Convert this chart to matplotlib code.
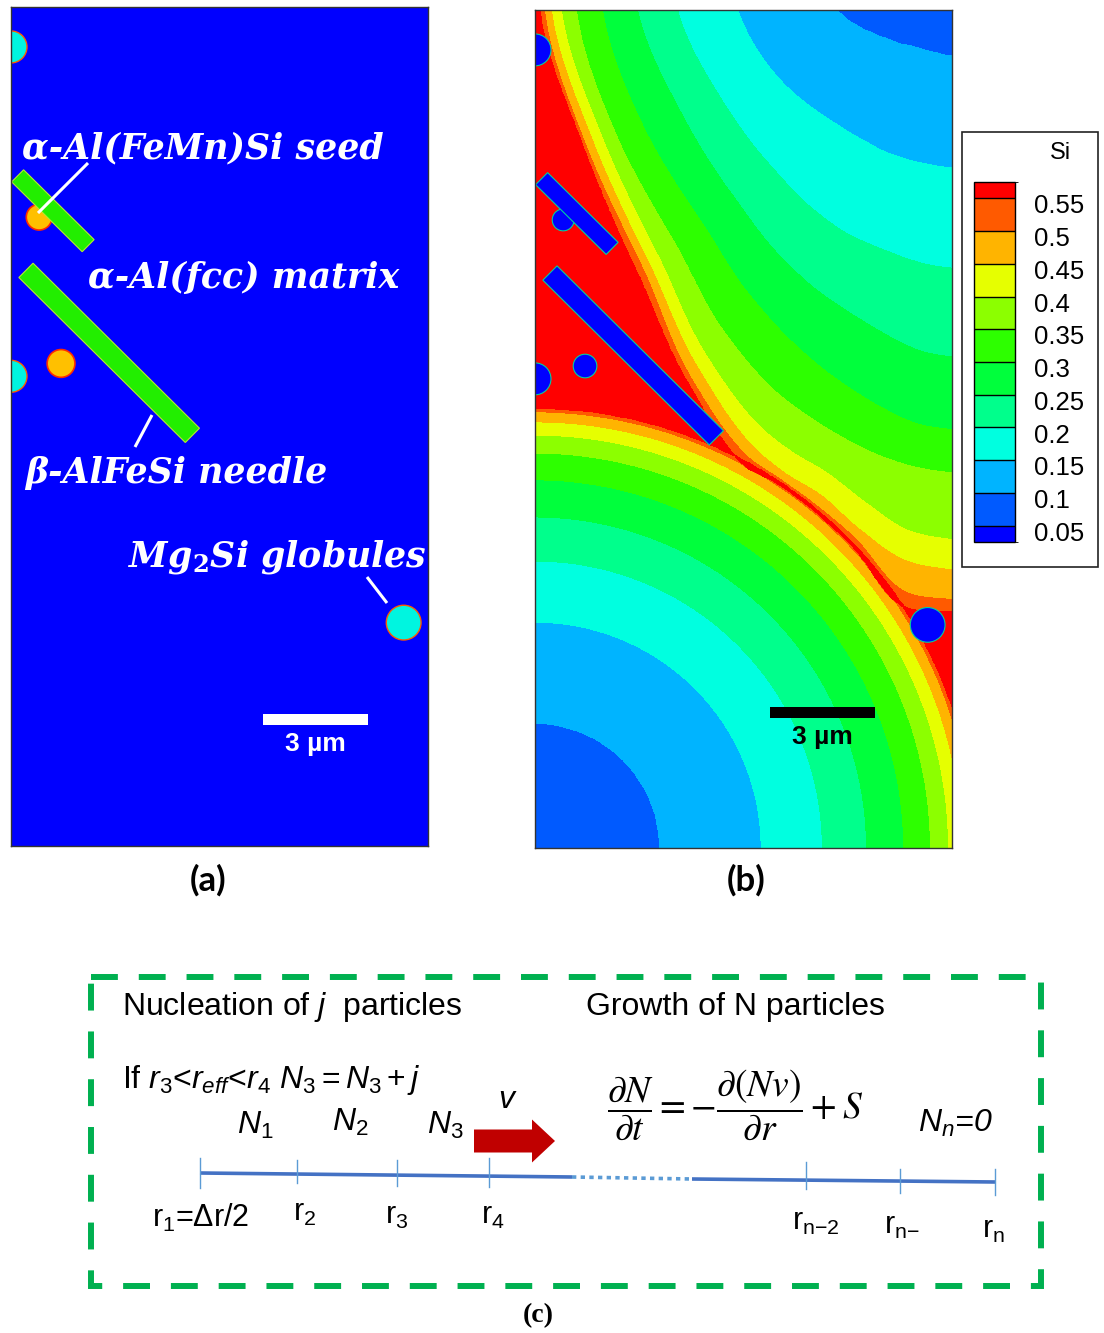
import numpy as np
import matplotlib
matplotlib.use('Agg')
import matplotlib.pyplot as plt
import matplotlib.transforms as mtransforms
from matplotlib.patches import Circle, Polygon, Rectangle, FancyArrow
from matplotlib.colors import ListedColormap, BoundaryNorm
from matplotlib.cm import ScalarMappable

plt.rcParams['font.family'] = 'Liberation Sans'
plt.rcParams['mathtext.fontset'] = 'custom'
plt.rcParams['mathtext.rm'] = 'Liberation Sans'
plt.rcParams['mathtext.it'] = 'Liberation Sans:italic'
plt.rcParams['mathtext.bf'] = 'Liberation Sans:bold'

# Si colour scale
si_levels = [0.05, 0.1, 0.15, 0.2, 0.25, 0.3, 0.35, 0.4, 0.45, 0.5, 0.55]
si_labels = ['0.05', '0.1', '0.15', '0.2', '0.25', '0.3', '0.35', '0.4', '0.45', '0.5', '0.55']
si_colors = ['#0000ff', '#005aff', '#00b4ff', '#00ffe0', '#00ff8c', '#00ff3c',
             '#2dff00', '#8cff00', '#e6ff00', '#ffb400', '#ff5a00', '#ff0000']

# simulation domain (um)
dom_w, dom_h = 12.0, 24.15
scale_um = 3

# lower-left grain: radius (um, from bottom-left corner) of the iso-Si lines 0.1 ... 0.55
low_radii = [3.57, 6.51, 8.27, 9.54, 10.61, 11.38, 11.90, 12.28, 12.57, 12.68]

# upper-right grain: iso-Si radius (um, from top-right corner) along rays at these angles
up_angles = [0, 20, 40, 55, 65, 70, 75, 80, 85, 90]
up_radii = [
    [3.31, 2.19, 1.59, 1.38, 1.33, 1.30, 1.30, 1.30, 1.30, 1.30],
    [6.17, 5.42, 4.78, 4.55, 4.52, 4.50, 4.50, 4.50, 4.52, 4.55],
    [7.90, 7.15, 6.89, 7.00, 7.12, 7.15, 7.20, 7.29, 7.38, 7.44],
    [9.05, 8.36, 8.27, 8.65, 8.99, 9.16, 9.37, 9.63, 9.88, 10.00],
    [10.06, 9.51, 9.45, 10.09, 10.66, 10.98, 11.30, 11.64, 11.96, 12.10],
    [10.81, 10.32, 10.43, 11.38, 12.10, 12.39, 12.68, 12.97, 13.20, 13.34],
    [11.24, 10.72, 11.04, 12.25, 13.20, 13.54, 13.83, 14.41, 15.04, 15.27],
    [11.53, 11.01, 11.38, 12.68, 13.78, 14.18, 14.50, 15.22, 15.91, 16.14],
    [11.73, 11.24, 11.61, 13.03, 14.12, 14.41, 14.84, 15.56, 16.77, 17.00],
    [11.87, 11.33, 11.82, 13.20, 14.38, 14.55, 15.01, 15.82, 17.20, 17.35],
]

# second phases (um, y measured down from the top of the domain)
needle_x0 = [0.19, 0.43]
needle_y0 = [4.86, 7.58]
needle_x1 = [2.22, 5.22]
needle_y1 = [6.87, 12.33]
needle_w = [0.49, 0.58]

seed_x = [0.81, 1.44]
seed_y = [6.05, 10.26]
seed_r = [0.37, 0.40]

glob_x = [0.0, 0.0, 11.30]
glob_y = [1.15, 10.63, 17.72]
glob_r = [0.46, 0.46, 0.50]

# 1D size-class grid of panel (c)
node_labels = [r'r$_1$=Δr/2', r'r$_2$', r'r$_3$', r'r$_4$',
               r'r$_{\mathrm{n}{-}2}$', r'r$_{\mathrm{n}{-}}$', r'r$_\mathrm{n}$']
class_labels = [r'$N_1$', r'$N_2$', r'$N_3$']

FW, FH = 1104, 1333
fig = plt.figure(figsize=(FW / 100, FH / 100), dpi=100)


def px_axes(x, y, w, h):
    return fig.add_axes([x / FW, 1 - (y + h) / FH, w / FW, h / FH])


def smooth_interp(x, xp, fp):
    # cubic Hermite through the tabulated points (Catmull-Rom slopes)
    xp = np.asarray(xp, float)
    fp = np.asarray(fp, float)
    h = np.diff(xp)
    m = np.empty_like(fp)
    m[1:-1] = (fp[2:] - fp[:-2]) / (xp[2:] - xp[:-2])
    m[0] = (fp[1] - fp[0]) / h[0]
    m[-1] = (fp[-1] - fp[-2]) / h[-1]
    i = np.clip(np.searchsorted(xp, x) - 1, 0, len(xp) - 2)
    t = (x - xp[i]) / h[i]
    t2, t3 = t * t, t * t * t
    return ((2 * t3 - 3 * t2 + 1) * fp[i] + (t3 - 2 * t2 + t) * h[i] * m[i]
            + (-2 * t3 + 3 * t2) * fp[i + 1] + (t3 - t2) * h[i] * m[i + 1])


def grain_field(rho, radii):
    lv = np.array(si_levels[1:])
    n = len(lv)
    k = (rho[None] > radii).sum(axis=0)
    kk = np.clip(k, 1, n - 1)
    r0 = np.take_along_axis(radii, (kk - 1)[None], 0)[0]
    r1 = np.take_along_axis(radii, kk[None], 0)[0]
    t = (rho - r0) / (r1 - r0)
    val = lv[kk - 1] + t * (lv[kk] - lv[kk - 1])
    val[k == 0] = 0.075
    val[k == n] = 0.6
    return val


def needle_poly(x0, y0, x1, y1, w):
    d = np.array([x1 - x0, y1 - y0])
    nrm = np.array([-d[1], d[0]]) / np.hypot(*d) * w / 2
    p0, p1 = np.array([x0, y0]), np.array([x1, y1])
    return np.array([p0 + nrm, p1 + nrm, p1 - nrm, p0 - nrm])


def setup_panel(ax):
    ax.set_xlim(0, dom_w)
    ax.set_ylim(dom_h, 0)
    ax.set_xticks([])
    ax.set_yticks([])
    for s in ax.spines.values():
        s.set_linewidth(1.0)
        s.set_color('#333333')


# ---- panel (a): phase map
ax_a = px_axes(11, 7, 417, 839)
setup_panel(ax_a)
ax_a.set_facecolor('#0000ff')
for x, y, r in zip(seed_x, seed_y, seed_r):
    ax_a.add_patch(Circle((x, y), r, fc='#ffc000', ec='#ff2a00', lw=1.2))
for x0, y0, x1, y1, w in zip(needle_x0, needle_y0, needle_x1, needle_y1, needle_w):
    ax_a.add_patch(Polygon(needle_poly(x0, y0, x1, y1, w), closed=True,
                           fc='#22ee00', ec='#b8e830', lw=0.8))
for x, y, r in zip(glob_x, glob_y, glob_r):
    ax_a.add_patch(Circle((x, y), r, fc='#00f5e0', ec='#ff5a00', lw=1.0))
ax_a.add_patch(Rectangle((7.26, 20.35), scale_um, 0.32, fc='white', ec='none'))
ax_a.text(7.26 + scale_um / 2, 21.2, '3 µm', color='white', fontsize=19,
          fontweight='bold', ha='center', va='center')

# ---- panel (b): Si concentration
ax_b = px_axes(535, 10, 417, 838)
setup_panel(ax_b)
xs = np.linspace(0, dom_w, 480)
ys = np.linspace(0, dom_h, 960)
X, Y = np.meshgrid(xs, ys)

rho_low = np.hypot(X, dom_h - Y)
r_low = np.broadcast_to(np.array(low_radii)[:, None, None], (len(low_radii),) + X.shape).copy()
v_low = grain_field(rho_low, r_low)

rho_up = np.hypot(dom_w - X, Y)
phi_up = np.degrees(np.arctan2(Y, dom_w - X))
r_up = np.array([smooth_interp(phi_up, up_angles, row) for row in up_radii])
v_up = grain_field(rho_up, r_up)

si = np.minimum(v_low, v_up)
# where both grains reach the same spot the last liquid film stays Si-rich
si[(v_low < 0.55) & (v_up < 0.55)] = 0.6

ax_b.contourf(X, Y, si, levels=[-1] + si_levels + [2], colors=si_colors)
for x, y, r in zip(seed_x, seed_y, seed_r):
    ax_b.add_patch(Circle((x, y), r * 0.85, fc='#0000ff', ec='#00d0a0', lw=0.8))
for x0, y0, x1, y1, w in zip(needle_x0, needle_y0, needle_x1, needle_y1, needle_w):
    ax_b.add_patch(Polygon(needle_poly(x0, y0, x1, y1, w), closed=True,
                           fc='#0000ff', ec='#00d0a0', lw=0.8))
for x, y, r in zip(glob_x, glob_y, glob_r):
    ax_b.add_patch(Circle((x, y), r, fc='#0000ff', ec='#00d0a0', lw=0.8))
ax_b.add_patch(Rectangle((6.77, 20.09), scale_um, 0.32, fc='black', ec='none'))
ax_b.text(6.77 + scale_um / 2, 20.95, '3 µm', color='black', fontsize=19,
          fontweight='bold', ha='center', va='center')

# ---- legend box with colour bar
ax_bg = px_axes(0, 0, FW, FH)
ax_bg.set_xlim(0, FW)
ax_bg.set_ylim(FH, 0)
ax_bg.axis('off')
ax_bg.set_zorder(-1)
ax_bg.add_patch(Rectangle((962, 132), 136, 435, fc='white', ec='#222222', lw=1.2))

cax = px_axes(974, 182, 41, 360)
bounds = [0.025] + si_levels + [0.575]
norm = BoundaryNorm(bounds, len(si_colors))
sm = ScalarMappable(norm=norm, cmap=ListedColormap(si_colors))
cb = fig.colorbar(sm, cax=cax, boundaries=bounds, ticks=si_levels, drawedges=True,
                  spacing='proportional')
cb.set_ticklabels(si_labels)
cb.ax.tick_params(length=0, labelsize=18.5, pad=14)
shift = mtransforms.ScaledTranslation(0, -4 / 72, fig.dpi_scale_trans)
for t in cb.ax.get_yticklabels():
    t.set_transform(t.get_transform() + shift)
cb.outline.set_linewidth(1.0)
cb.dividers.set_color('black')
cb.dividers.set_linewidth(1.0)

# ---- overlay: labels and panel (c)
ax = px_axes(0, 0, FW, FH)
ax.set_xlim(0, FW)
ax.set_ylim(FH, 0)
ax.axis('off')
ax.patch.set_alpha(0)

ax.text(1060, 153, 'Si', fontsize=17, ha='center', va='center')

lab = dict(color='white', fontsize=25, family='DejaVu Serif', fontweight='bold',
           style='italic', va='baseline', math_fontfamily='dejavuserif')
ax.text(22, 158, 'α-Al(FeMn)Si seed', **lab)
ax.text(88, 288, 'α-Al(fcc) matrix', **lab)
ax.text(25, 483, 'β-AlFeSi needle', **lab)
ax.text(128, 567, r'Mg$_\mathbf{2}$Si globules', **lab)
for (x0, y0), (x1, y1) in [((88, 163), (38, 213)), ((152, 415), (135, 447)),
                           ((367, 577), (387, 603))]:
    ax.plot([x0, x1], [y0, y1], color='white', lw=2.2, solid_capstyle='butt')

ax.text(208, 880, '(a)', family='Lato', fontweight='bold', fontsize=25, ha='center', va='center')
ax.text(746, 880, '(b)', family='Lato', fontweight='bold', fontsize=25, ha='center', va='center')
ax.text(538, 1316, '(c)', family='Liberation Serif', fontweight='bold', fontsize=20,
        ha='center', va='center')

ax.add_patch(Rectangle((91, 977), 950, 309, fill=False, ec='#00b050', lw=4.3,
                       ls=(0, (4.5, 3.5))))

ax.text(122, 1007, r'Nucleation of $j$  particles', fontsize=23, va='center')
ax.text(586, 1007, 'Growth of N particles', fontsize=23, va='center')
ax.text(122, 1080, r'If $r_3$<$r_{eff}$<$r_4$ $N_3 = N_3 + j$', fontsize=23, va='center')
for (x, y), s in zip([(255, 1125), (350, 1122), (445, 1125)], class_labels):
    ax.text(x, y, s, fontsize=23, ha='center', va='center')
ax.text(508, 1100, r'$v$', fontsize=23, ha='center', va='center')
ax.add_patch(FancyArrow(474, 1141, 81, 0, width=23, head_width=43, head_length=23,
                        length_includes_head=True, color='#c00000', lw=0))
ax.text(607, 1104, r'$\dfrac{\partial N}{\partial t} = -\dfrac{\partial (N v)}{\partial r} + S$',
        math_fontfamily='stix', fontsize=27, ha='left', va='center')
ax.text(955, 1123, r'$N_n$=0', fontsize=23, style='italic', ha='center', va='center')

ax.plot([200, 572], [1173, 1177], color='#4472c4', lw=2.6, solid_capstyle='butt')
ax.plot([572, 692], [1177, 1179], color='#5b9bd5', lw=2.6, ls=(0, (1.2, 1.2)))
ax.plot([692, 995], [1179, 1182], color='#4472c4', lw=2.6, solid_capstyle='butt')
node_x = [200, 297, 397, 489, 806, 900, 995]
node_y = [(1158, 1188), (1160, 1183), (1160, 1186), (1158, 1187), (1162, 1189),
          (1169, 1193), (1169, 1195)]
label_pos = [(201, 1218), (305, 1213), (397, 1216), (493, 1216), (816, 1222),
             (902, 1226), (993, 1230)]
for x, (y0, y1) in zip(node_x, node_y):
    ax.plot([x, x], [y0, y1], color='#5b9bd5', lw=1.0)
for (x, y), s in zip(label_pos, node_labels):
    ax.text(x, y, s, fontsize=22, ha='center', va='center')

fig.savefig('out.png', dpi=100)
